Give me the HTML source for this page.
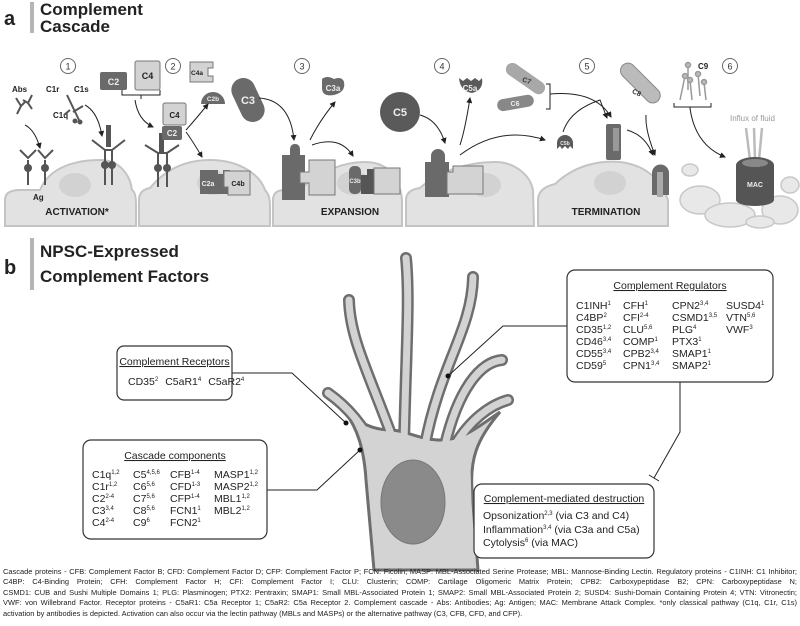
<!DOCTYPE html>
<html><head><meta charset="utf-8"><style>
html,body{margin:0;padding:0;background:#fff;width:800px;height:626px;overflow:hidden}
svg{position:absolute;left:0;top:0}
.cap{position:absolute;left:3px;top:567px;width:794px;font-family:"Liberation Sans",sans-serif;font-size:7.45px;line-height:10.4px;color:#222}
.cap div{text-align:justify;text-align-last:justify;white-space:nowrap;overflow:hidden}
.cap div.l{text-align-last:left}
</style></head><body>
<svg width="800" height="626" viewBox="0 0 800 626" font-family="Liberation Sans, sans-serif">
<defs>
<marker id="ah" markerWidth="6" markerHeight="6" refX="5" refY="3" orient="auto"><path d="M0,0 L6,3 L0,6 Z" fill="#222"/></marker>
</defs>
<!-- headers -->
<text x="4" y="25" font-size="20" font-weight="bold" fill="#222">a</text>
<rect x="30" y="2" width="4" height="31" fill="#b5b5b5"/>
<text x="40" y="15" font-size="17" font-weight="bold" fill="#222">Complement</text>
<text x="40" y="32" font-size="17" font-weight="bold" fill="#222">Cascade</text>
<text x="4" y="274" font-size="20" font-weight="bold" fill="#222">b</text>
<rect x="30" y="238" width="4" height="52" fill="#b5b5b5"/>
<text x="40" y="257" font-size="17" font-weight="bold" fill="#222">NPSC-Expressed</text>
<text x="40" y="282" font-size="17" font-weight="bold" fill="#222">Complement Factors</text>

<!-- cells -->
<g fill="#e2e2e2" stroke="#c4c4c4" stroke-width="2">
<path d="M5,226 L5,200 Q5,190 20,190 L40,190 C50,165 80,160 100,160 C120,160 130,175 132,190 Q136,192 136,205 L136,226 Z"/>
<path d="M139,226 L139,200 Q139,190 150,188 C165,170 185,160 210,160 C240,160 260,175 265,190 Q270,195 270,205 L270,226 Z"/>
<path d="M273,226 L273,200 Q273,190 285,190 L300,190 C320,170 345,162 365,162 C390,162 400,180 402,200 L402,226 Z"/>
<path d="M406,226 L406,200 Q406,190 420,188 C440,170 470,162 495,162 C515,162 530,175 533,190 L534,226 Z"/>
<path d="M538,226 L538,200 Q538,188 555,184 C575,165 600,160 620,162 C645,165 660,178 668,200 L668,226 Z"/>
</g>
<g fill="#d2d2d2">
<ellipse cx="75" cy="185" rx="16" ry="12"/><ellipse cx="213" cy="183" rx="16" ry="12"/>
<ellipse cx="353" cy="183" rx="16" ry="12"/><ellipse cx="485" cy="185" rx="16" ry="12"/>
<ellipse cx="610" cy="183" rx="16" ry="12"/>
</g>
<g fill="#e8e8e8" stroke="#c8c8c8" stroke-width="1.5">
<ellipse cx="700" cy="200" rx="20" ry="14"/><ellipse cx="730" cy="215" rx="25" ry="12"/>
<ellipse cx="780" cy="210" rx="18" ry="14"/><ellipse cx="690" cy="170" rx="8" ry="6"/>
<ellipse cx="790" cy="185" rx="9" ry="8"/><ellipse cx="760" cy="222" rx="14" ry="6"/>
</g>
<g font-size="10" font-weight="bold" fill="#222" text-anchor="middle">
<text x="77" y="215">ACTIVATION*</text><text x="350" y="215">EXPANSION</text><text x="606" y="215">TERMINATION</text>
</g>
<!-- step circles -->
<g fill="#fff" stroke="#666" stroke-width="1"><circle cx="68" cy="66" r="7.5"/><circle cx="173" cy="66" r="7.5"/><circle cx="302" cy="66" r="7.5"/><circle cx="442" cy="66" r="7.5"/><circle cx="587" cy="66" r="7.5"/><circle cx="730" cy="66" r="7.5"/></g>
<g font-size="9" fill="#333" text-anchor="middle"><text x="68" y="69.5">1</text><text x="173" y="69.5">2</text><text x="302" y="69.5">3</text><text x="442" y="69.5">4</text><text x="587" y="69.5">5</text><text x="730" y="69.5">6</text></g>

<!-- step 1 -->
<g font-size="8" font-weight="bold" fill="#222"><text x="12" y="92">Abs</text><text x="46" y="92">C1r</text><text x="74" y="92">C1s</text><text x="53" y="118">C1q</text><text x="33" y="200">Ag</text><text x="698" y="69">C9</text></g>
<g stroke="#555" stroke-width="2" fill="none">
<path d="M16,98 l5,8 l-4,8 M21,106 l5,-5"/><path d="M32,95 l-4,8 l4,6 M28,103 l-5,-3"/>
<path d="M67,95 l12,25 M70,110 l-6,5 M73,112 l10,-6"/>
<path d="M28,160 l0,25 M45,160 l0,25 M105,150 l0,35 M112,150 l0,35 M158,152 l0,35 M167,152 l0,35"/>
<path d="M20,150 l8,8 l8,-8 M38,150 l7,8 l8,-8 M92,140 l13,10 l7,0 l13,-10 M145,145 l13,8 l9,0 l12,-8"/>
</g>
<g fill="#555"><circle cx="28" cy="168" r="4"/><circle cx="45" cy="168" r="4"/><circle cx="105" cy="165" r="4"/><circle cx="112" cy="165" r="4"/><circle cx="158" cy="168" r="4"/><circle cx="167" cy="168" r="4"/><circle cx="75" cy="121" r="2.5"/><circle cx="80" cy="122" r="2.5"/>
<rect x="106" y="125" width="5" height="22"/><rect x="159" y="133" width="5" height="20"/></g>
<!-- step 2 -->
<rect x="100" y="72" width="27" height="18" rx="2" fill="#6a6a6a"/><text x="113.5" y="85" font-size="9" font-weight="bold" fill="#eee" text-anchor="middle">C2</text>
<rect x="135" y="61" width="25" height="29" rx="2" fill="#d3d3d3" stroke="#777"/><text x="147.5" y="79" font-size="9" font-weight="bold" fill="#222" text-anchor="middle">C4</text>
<rect x="163" y="103" width="23" height="22" rx="2" fill="#d3d3d3" stroke="#777"/><text x="174.5" y="118" font-size="8" font-weight="bold" fill="#222" text-anchor="middle">C4</text>
<rect x="162" y="126" width="20" height="14" rx="2" fill="#6a6a6a"/><text x="172" y="136" font-size="8" font-weight="bold" fill="#eee" text-anchor="middle">C2</text>
<path d="M190,62 h23 v6 h-5 v8 h5 v6 h-23 Z" fill="#d3d3d3" stroke="#777"/><text x="197" y="75" font-size="6.5" font-weight="bold" fill="#222" text-anchor="middle">C4a</text>
<path d="M201,104 a12,12 0 0 1 24,0 Z" fill="#6a6a6a"/><text x="213" y="101" font-size="6.5" font-weight="bold" fill="#eee" text-anchor="middle">C2b</text>
<path d="M200,170 h18 v4 h5 v-4 h7 v24 h-30 Z" fill="#6a6a6a"/><text x="208" y="186" font-size="7" font-weight="bold" fill="#eee" text-anchor="middle">C2a</text>
<path d="M224,171 h26 v24 h-22 v-8 h-4 Z" fill="#d3d3d3" stroke="#777"/><text x="238" y="186" font-size="7" font-weight="bold" fill="#222" text-anchor="middle">C4b</text>
<!-- step 3 -->
<rect x="236" y="77" width="24" height="46" rx="12" fill="#6a6a6a" transform="rotate(-25 248 100)"/><text x="248" y="104" font-size="11" font-weight="bold" fill="#eee" text-anchor="middle">C3</text>
<path d="M322,79 q5,-4 12,0 q8,-3 10,3 q2,10 -10,13 q-12,2 -12,-7 Z" fill="#6a6a6a"/><text x="333" y="91" font-size="8" font-weight="bold" fill="#eee" text-anchor="middle">C3a</text>
<path d="M282,175 v-20 h8 v-5 q0,-6 5,-6 q5,0 5,6 v5 h5 v45 h-23 Z" fill="#6a6a6a"/>
<path d="M300,172 h9 v-12 h26 v35 h-26 v-12 h-9 Z" fill="#d3d3d3" stroke="#777"/>
<rect x="349" y="166" width="12" height="28" rx="5" fill="#6a6a6a"/><text x="355" y="183" font-size="6" font-weight="bold" fill="#eee" text-anchor="middle">C3b</text>
<path d="M361,175 h6 v-6 h8 v25 h-14 Z" fill="#555"/>
<path d="M374,168 h26 v26 h-26 Z" fill="#d3d3d3" stroke="#777"/>
<!-- step 4 -->
<circle cx="400" cy="112" r="20" fill="#5a5a5a"/><text x="400" y="116" font-size="11" font-weight="bold" fill="#eee" text-anchor="middle">C5</text>
<path d="M459,78 l4,3 l4,-3 l4,3 l4,-3 l4,3 l3,-3 q2,12 -10,15 q-12,-2 -13,-15 Z" fill="#5a5a5a"/><text x="470" y="91" font-size="8" font-weight="bold" fill="#eee" text-anchor="middle">C5a</text>
<path d="M425,182 v-20 h6 v-6 a7,7 0 0 1 14,0 v6 h4 v35 h-24 Z" fill="#6a6a6a"/>
<path d="M447,172 h6 v-6 h30 v28 h-36 Z" fill="#d3d3d3" stroke="#777"/>
<!-- step 5 -->
<rect x="503" y="73" width="45" height="13" rx="6.5" fill="#a8a8a8" transform="rotate(35 527 79)"/><text x="527" y="83" font-size="7" font-weight="bold" fill="#333" text-anchor="middle" transform="rotate(20 527 80)">C7</text>
<rect x="497" y="97" width="37" height="12" rx="6" fill="#888" transform="rotate(-10 515 103)"/><text x="515" y="106" font-size="7" font-weight="bold" fill="#eee" text-anchor="middle">C6</text>
<path d="M557,149 v-6 a8,8 0 0 1 16,0 v6 l-3,-3 l-2,3 l-3,-3 l-3,3 l-2,-3 Z" fill="#5a5a5a"/><text x="565" y="145" font-size="5" font-weight="bold" fill="#eee" text-anchor="middle">C5b</text>
<rect x="606" y="124" width="15" height="36" rx="2" fill="#6a6a6a"/><rect x="613" y="128" width="6" height="23" fill="#999"/>
<rect x="616" y="75" width="50" height="15" rx="7.5" fill="#bbb" stroke="#888" transform="rotate(45 640 82)"/><text x="637" y="95" font-size="7" font-weight="bold" fill="#333" text-anchor="middle" transform="rotate(25 637 92)">C8</text>
<path d="M652,195 v-22 a8,8 0 0 1 17,0 v22 Z" fill="#6a6a6a"/><rect x="657" y="172" width="6" height="25" fill="#aaa"/>
<!-- C9 -->
<g stroke="#999" stroke-width="1.5" fill="#bbb"><line x1="680" y1="100" x2="685" y2="76"/><line x1="688" y1="90" x2="688" y2="65"/><line x1="692" y1="100" x2="690" y2="80"/><line x1="700" y1="96" x2="698" y2="74"/><line x1="706" y1="100" x2="704" y2="82"/><circle cx="685" cy="76" r="2.5"/><circle cx="688" cy="65" r="2.5"/><circle cx="690" cy="80" r="2.5"/><circle cx="698" cy="74" r="2.5"/><circle cx="704" cy="82" r="2.5"/></g>
<text x="730" y="121" font-size="8" fill="#999">Influx of fluid</text>
<g stroke="#bbb" stroke-width="2.5"><line x1="746" y1="128" x2="750" y2="160"/><line x1="754" y1="128" x2="755" y2="160"/><line x1="762" y1="128" x2="759" y2="160"/></g>
<path d="M736,165 a19,8 0 0 1 38,0 v35 a19,6 0 0 1 -38,0 Z" fill="#555"/><ellipse cx="755" cy="163" rx="13" ry="4" fill="#888"/>
<text x="755" y="187" font-size="7" font-weight="bold" fill="#eee" text-anchor="middle">MAC</text>
<!-- brackets & arrows -->
<g stroke="#222" stroke-width="1" fill="none" marker-end="url(#ah)">
<path d="M25,125 Q35,130 40,148"/><path d="M85,105 Q98,112 102,136"/>
<path d="M135,100 Q138,120 153,127"/><path d="M186,130 Q195,120 208,104"/>
<path d="M186,132 Q192,140 202,157"/><path d="M259,98 Q290,100 294,140"/>
<path d="M310,140 Q320,120 335,102"/><path d="M312,145 Q340,135 353,156"/>
<path d="M420,115 Q438,120 445,143"/><path d="M460,145 Q465,130 470,98"/>
<path d="M460,155 Q500,125 545,140"/><path d="M563,132 Q570,110 600,100 L607,118"/>
<path d="M550,94 Q595,90 611,117"/><path d="M627,130 Q645,135 653,155"/>
<path d="M646,115 Q645,130 655,155"/><path d="M690,108 Q695,145 725,157"/>
</g>
<g stroke="#222" stroke-width="1" fill="none">
<path d="M122,90 v5 h38 v-5 M141,95 v4"/><path d="M546,84 h4 v25 h-4"/><path d="M674,103 v4 h37 v-4 M690,107 v2"/>
</g>

<!-- neuron -->
<g fill="none" stroke-linecap="round" stroke-linejoin="round" stroke="#6e6e6e" stroke-width="12">
<path d="M349,300 C350,340 370,375 395,445"/><path d="M406,258 C410,300 406,350 404,445"/>
<path d="M473,277 C472,330 440,365 425,445"/><path d="M502,360 C480,362 458,390 445,445"/>
<path d="M508,400 C490,405 470,420 455,445"/><path d="M328,393 C345,405 362,422 375,450"/>
</g>
<path d="M345,412 C357,428 364,448 366,480 L374,570 L478,570 L472,490 C470,460 476,440 500,412 C480,425 465,440 440,440 C420,440 405,430 390,430 C372,430 360,422 345,412 Z" fill="#d3d3d3" stroke="#6e6e6e" stroke-width="3"/>
<g fill="none" stroke-linecap="round" stroke-linejoin="round" stroke="#d3d3d3" stroke-width="7">
<path d="M349,300 C350,340 370,375 395,445"/><path d="M406,258 C410,300 406,350 404,445"/>
<path d="M473,277 C472,330 440,365 425,445"/><path d="M502,360 C480,362 458,390 445,445"/>
<path d="M508,400 C490,405 470,420 455,445"/><path d="M328,393 C345,405 362,422 375,450"/>
</g>
<path d="M368,445 C390,438 450,438 470,450 L472,520 L372,520 Z" fill="#d3d3d3"/>
<ellipse cx="413" cy="502" rx="32" ry="42" fill="#8a8a8a" stroke="#777" stroke-width="1"/>
<!-- connectors -->
<g stroke="#222" stroke-width="1" fill="none">
<path d="M232,373 H292 L346,423"/><path d="M267,490 H317 L360,450"/>
<path d="M448,376 L503,326 H567"/><path d="M680,382 V432 L654,478 M649,475 L659,481"/>
</g>
<g fill="#111"><circle cx="346" cy="423" r="2.5"/><circle cx="360" cy="450" r="2.5"/><circle cx="448" cy="376" r="2.5"/></g>

<!-- boxes -->
<g fill="#fff" stroke="#333" stroke-width="1.2">
<rect x="117" y="346" width="115" height="54" rx="7"/>
<rect x="83" y="440" width="184" height="99" rx="8"/>
<rect x="567" y="270" width="206" height="112" rx="8"/>
<rect x="474" y="484" width="180" height="74" rx="8"/>
</g>
<g font-size="10.5" fill="#222">
<text x="174.5" y="365" text-anchor="middle" text-decoration="underline">Complement Receptors</text>
<text x="128" y="385">CD35<tspan font-size="6" dy="-4">2</tspan><tspan dy="4" dx="7">C5aR1</tspan><tspan font-size="6" dy="-4">4</tspan><tspan dy="4" dx="7">C5aR2</tspan><tspan font-size="6" dy="-4">4</tspan></text>
<text x="175" y="459" text-anchor="middle" text-decoration="underline">Cascade components</text>
<text x="670" y="289" text-anchor="middle" text-decoration="underline">Complement Regulators</text>
<text x="564" y="502" text-anchor="middle" text-decoration="underline">Complement-mediated destruction</text>
<text x="483" y="519">Opsonization<tspan font-size="6" dy="-4">2,3</tspan><tspan dy="4"> (via C3 and C4)</tspan></text>
<text x="483" y="533">Inflammation<tspan font-size="6" dy="-4">3,4</tspan><tspan dy="4"> (via C3a and C5a)</tspan></text>
<text x="483" y="546">Cytolysis<tspan font-size="6" dy="-4">6</tspan><tspan dy="4"> (via MAC)</tspan></text>
</g>
<g font-size="10.5" fill="#222">
<text x="92" y="478">C1q<tspan font-size="6" dy="-4">1,2</tspan></text><text x="92" y="490">C1r<tspan font-size="6" dy="-4">1,2</tspan></text><text x="92" y="502">C2<tspan font-size="6" dy="-4">2-4</tspan></text><text x="92" y="514">C3<tspan font-size="6" dy="-4">3,4</tspan></text><text x="92" y="526">C4<tspan font-size="6" dy="-4">2-4</tspan></text>
<text x="133" y="478">C5<tspan font-size="6" dy="-4">4,5,6</tspan></text><text x="133" y="490">C6<tspan font-size="6" dy="-4">5,6</tspan></text><text x="133" y="502">C7<tspan font-size="6" dy="-4">5,6</tspan></text><text x="133" y="514">C8<tspan font-size="6" dy="-4">5,6</tspan></text><text x="133" y="526">C9<tspan font-size="6" dy="-4">6</tspan></text>
<text x="170" y="478">CFB<tspan font-size="6" dy="-4">1-4</tspan></text><text x="170" y="490">CFD<tspan font-size="6" dy="-4">1-3</tspan></text><text x="170" y="502">CFP<tspan font-size="6" dy="-4">1-4</tspan></text><text x="170" y="514">FCN1<tspan font-size="6" dy="-4">1</tspan></text><text x="170" y="526">FCN2<tspan font-size="6" dy="-4">1</tspan></text>
<text x="214" y="478">MASP1<tspan font-size="6" dy="-4">1,2</tspan></text><text x="214" y="490">MASP2<tspan font-size="6" dy="-4">1,2</tspan></text><text x="214" y="502">MBL1<tspan font-size="6" dy="-4">1,2</tspan></text><text x="214" y="514">MBL2<tspan font-size="6" dy="-4">1,2</tspan></text>
<text x="576" y="309">C1INH<tspan font-size="6" dy="-4">1</tspan></text><text x="576" y="321">C4BP<tspan font-size="6" dy="-4">2</tspan></text><text x="576" y="333">CD35<tspan font-size="6" dy="-4">1,2</tspan></text><text x="576" y="345">CD46<tspan font-size="6" dy="-4">3,4</tspan></text><text x="576" y="357">CD55<tspan font-size="6" dy="-4">3,4</tspan></text><text x="576" y="369">CD59<tspan font-size="6" dy="-4">5</tspan></text>
<text x="623" y="309">CFH<tspan font-size="6" dy="-4">1</tspan></text><text x="623" y="321">CFI<tspan font-size="6" dy="-4">2-4</tspan></text><text x="623" y="333">CLU<tspan font-size="6" dy="-4">5,6</tspan></text><text x="623" y="345">COMP<tspan font-size="6" dy="-4">1</tspan></text><text x="623" y="357">CPB2<tspan font-size="6" dy="-4">3,4</tspan></text><text x="623" y="369">CPN1<tspan font-size="6" dy="-4">3,4</tspan></text>
<text x="672" y="309">CPN2<tspan font-size="6" dy="-4">3,4</tspan></text><text x="672" y="321">CSMD1<tspan font-size="6" dy="-4">3,5</tspan></text><text x="672" y="333">PLG<tspan font-size="6" dy="-4">4</tspan></text><text x="672" y="345">PTX3<tspan font-size="6" dy="-4">1</tspan></text><text x="672" y="357">SMAP1<tspan font-size="6" dy="-4">1</tspan></text><text x="672" y="369">SMAP2<tspan font-size="6" dy="-4">1</tspan></text>
<text x="726" y="309">SUSD4<tspan font-size="6" dy="-4">1</tspan></text><text x="726" y="321">VTN<tspan font-size="6" dy="-4">5,6</tspan></text><text x="726" y="333">VWF<tspan font-size="6" dy="-4">3</tspan></text>
</g>
</svg>
<div class="cap">
<div>Cascade proteins - CFB: Complement Factor B; CFD: Complement Factor D; CFP: Complement Factor P; FCN: Ficolin; MASP: MBL-Associated Serine Protease; MBL: Mannose-Binding Lectin. Regulatory proteins - C1INH: C1 Inhibitor;</div>
<div>C4BP: C4-Binding Protein; CFH: Complement Factor H; CFI: Complement Factor I; CLU: Clusterin; COMP: Cartilage Oligomeric Matrix Protein; CPB2: Carboxypeptidase B2; CPN: Carboxypeptidase N;</div>
<div>CSMD1: CUB and Sushi Multiple Domains 1; PLG: Plasminogen; PTX2: Pentraxin; SMAP1: Small MBL-Associated Protein 1; SMAP2: Small MBL-Associated Protein 2; SUSD4: Sushi-Domain Containing Protein 4; VTN: Vitronectin;</div>
<div>VWF: von Willebrand Factor. Receptor proteins - C5aR1: C5a Receptor 1; C5aR2: C5a Receptor 2. Complement cascade - Abs: Antibodies; Ag: Antigen; MAC: Membrane Attack Complex. *only classical pathway (C1q, C1r, C1s)</div>
<div class="l">activation by antibodies is depicted. Activation can also occur via the lectin pathway (MBLs and MASPs) or the alternative pathway (C3, CFB, CFD, and CFP).</div>
</div>
</body></html>
